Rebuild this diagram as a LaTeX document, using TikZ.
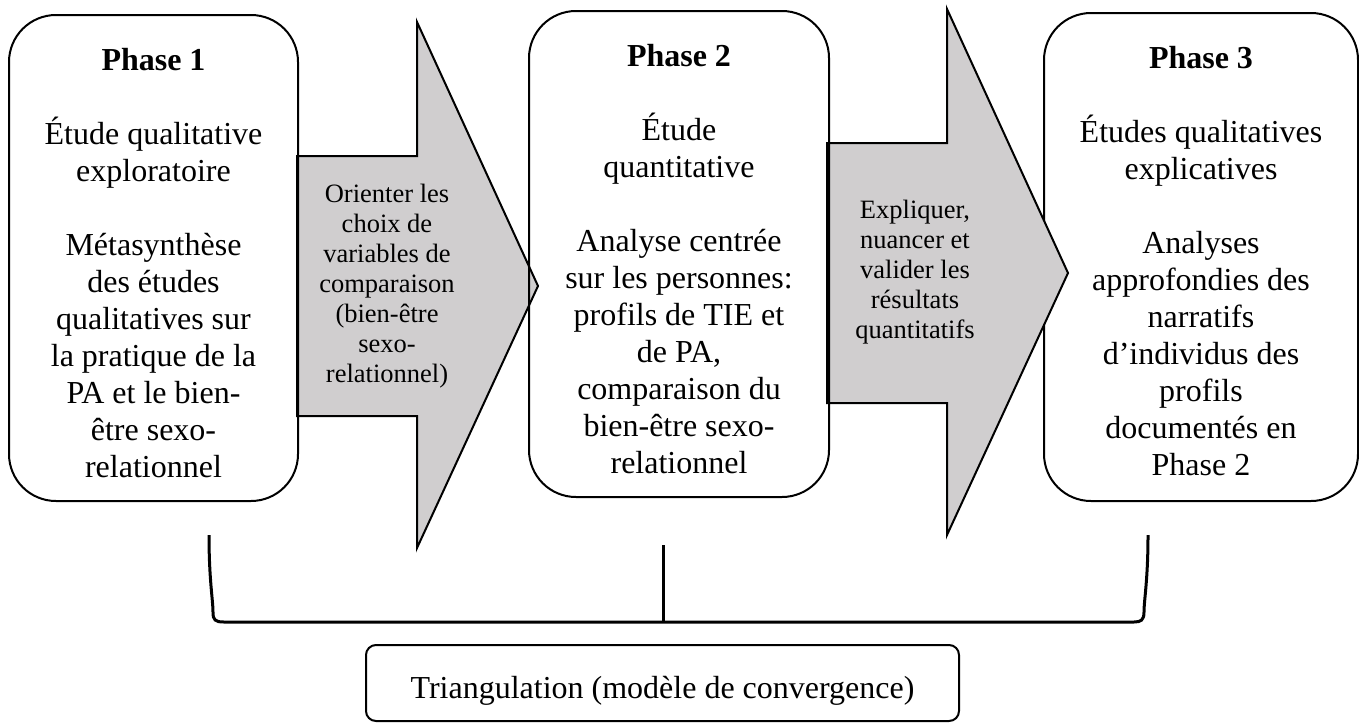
\documentclass[tikz,border=0pt]{standalone}
\usepackage{fontspec}
\setmainfont{Liberation Serif}
\usepackage{xcolor}
\usetikzlibrary{positioning}
\definecolor{arrowgray}{RGB}{208,206,207}

\tikzset{
  phasebox/.style={draw, line width=1pt, rounded corners=23.5pt, inner sep=0pt},
  phasetext/.style={align=center, inner sep=0pt, font=\fontsize{16}{18.5}\selectfont},
  arrowtext/.style={align=center, inner sep=0pt, font=\fontsize{13.25}{15}\selectfont},
  flowarrow/.style={draw, line width=1pt, fill=arrowgray, line join=miter},
  bracket/.style={line width=1.5pt},
}

\begin{document}
\begin{tikzpicture}[x=0.5pt, y=-0.5pt]
\useasboundingbox (0,0) rectangle (1359,723);

% phase 3 lies under the second arrow
\node[phasebox, minimum width=157pt, minimum height=244pt, anchor=north west] (p3) at (1043,12) {};

\foreach \x/\y in {297/156, 827/143}{%
\draw[flowarrow] (\x,\y) -- ++(120,0) -- ++(0,-134)
                 -- ++(121,264) -- ++(-121,262)
                 -- ++(0,-132) -- ++(-120,0) -- cycle;
}

\node[phasebox, minimum width=144.5pt, minimum height=243pt, anchor=north west] (p1) at (8,14) {};
\node[phasebox, minimum width=150pt, minimum height=243pt, anchor=north west] (p2) at (528,10) {};

\node[phasetext, below=17pt of p1.north] (p1txt) {\textbf{Phase 1}\\[18.5pt]
  Étude qualitative\\exploratoire\\[18.5pt]
  Métasynthèse\\des études\\qualitatives sur\\la pratique de la\\PA et le bien-\\être sexo-\\relationnel};
\node[phasetext, below=17pt of p2.north] (p2txt) {\textbf{Phase 2}\\[18.5pt]
  Étude\\quantitative\\[18.5pt]
  Analyse centrée\\sur les personnes:\\profils de TIE et\\de PA,\\comparaison du\\bien-être sexo-\\relationnel};
\node[phasetext, below=17pt of p3.north] (p3txt) {\textbf{Phase 3}\\[18.5pt]
  Études qualitatives\\explicatives\\[18.5pt]
  Analyses\\approfondies des\\narratifs\\d’individus des\\profils\\documentés en\\Phase 2};

\node[arrowtext] (a12) at (387,286) {Orienter les\\choix de\\variables de\\comparaison\\(bien-être\\sexo-\\relationnel)};
\node[arrowtext] (a23) at (915,272) {Expliquer,\\nuancer et\\valider les\\résultats\\quantitatifs};

% bracket joining the three phases
\coordinate (bl) at (209,535);
\coordinate (bm) at (663,545);
\coordinate (br) at (1148,535);
\coordinate (bj) at (663,622);
\draw[bracket] (bl) .. controls (209,580) and (213,600) .. (213,612)
   .. controls (213,620) and (215,622) .. (224,622) -- (1134,622)
   .. controls (1141,622) and (1144,620) .. (1144,612)
   .. controls (1144,600) and (1148,580) .. (br);
\draw[bracket] (bm) -- (bj);

\node[draw, line width=1pt, rounded corners=5pt, minimum width=296.5pt, minimum height=38pt,
      inner sep=0pt, text height=19pt, text depth=3.2pt,
      font=\fontsize{16}{18.5}\selectfont] (tri) at (662.5,683) {Triangulation (modèle de convergence)};
\end{tikzpicture}
\end{document}
